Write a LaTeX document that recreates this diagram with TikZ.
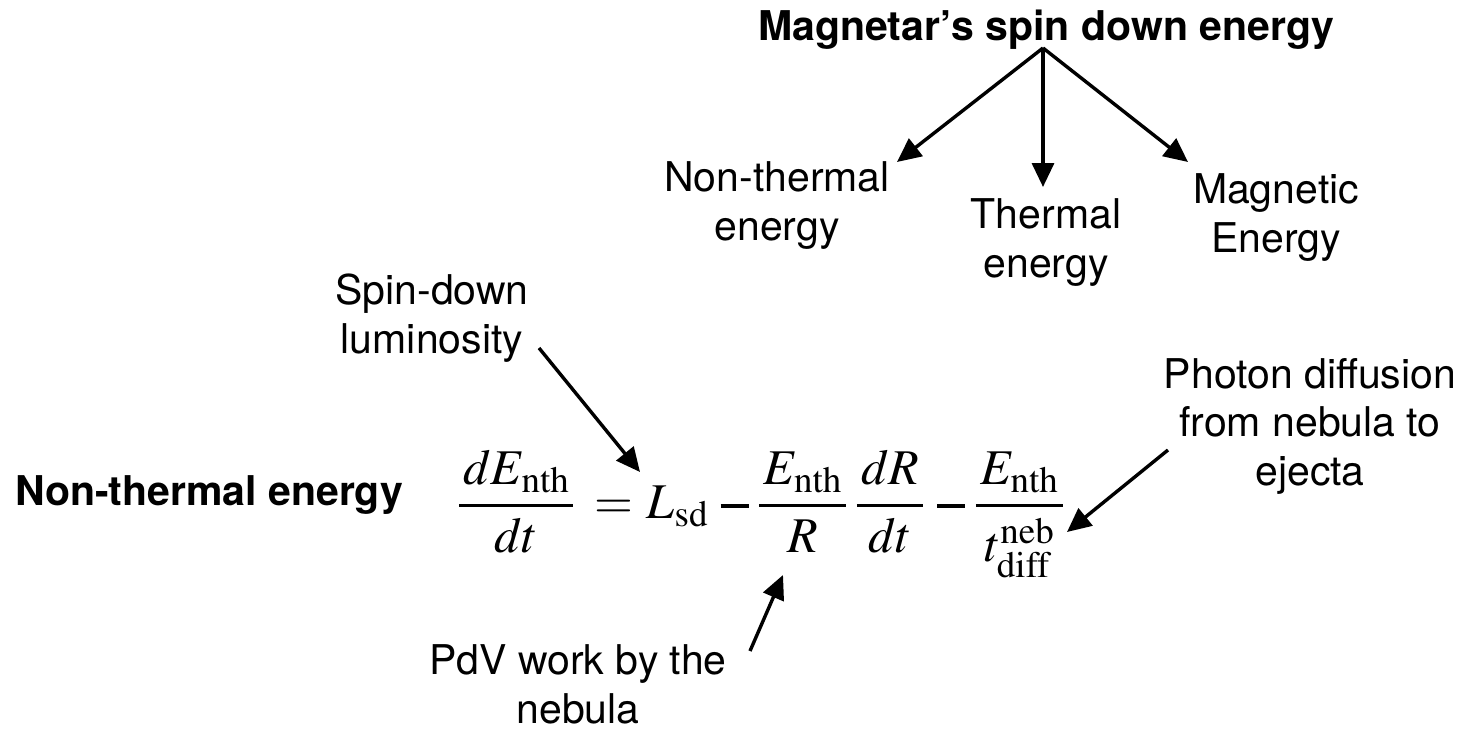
\documentclass[tikz,border=0pt]{standalone}
\usepackage{mathptmx}
\usepackage[no-math]{fontspec}
\setmainfont{TeX Gyre Heros}
\usetikzlibrary{arrows.meta}
\newcommand{\mminus}{\mathbin{\rule[0.2em]{0.56em}{0.075em}}}
\newcommand{\thickfrac}[2]{{\mkern1.5mu#1\mkern1.5mu\above 3.6pt\mkern1.5mu#2\mkern1.5mu}}
\begin{document}
\begin{tikzpicture}[x=1pt,y=-1pt,
  lbl/.style={font=\fontsize{41}{48.5}\selectfont, align=center, inner sep=0pt, anchor=base},
  boldlbl/.style={lbl, font=\fontsize{41}{48.5}\selectfont\bfseries},
  arr/.style={line width=3.4pt, -{Triangle[length=24pt,width=22pt]}}]
\useasboundingbox (0,0) rectangle (1468,731);
% texts (anchor base = baseline of the last line)
\node[boldlbl] (title) at (1046,40) {Magnetar’s spin down energy};
\node[lbl] (nth) at (777,240) {Non-thermal\\energy};
\node[lbl] (th) at (1046,277) {Thermal\\energy};
\node[lbl] (mag) at (1276,252) {Magnetic\\Energy};
\node[lbl] (lum) at (432,353) {Spin-down\\luminosity};
\node[boldlbl, anchor=base east] (nthe) at (403,505) {Non-thermal energy};
\node[lbl] (pdv) at (578,723) {PdV work by the\\nebula};
\node[lbl] (phot) at (1310,485) {Photon diffusion\\from nebula to\\ejecta};
% equation
\node[inner sep=0pt, anchor=base west, font=\fontsize{50}{60}\selectfont] (eq) at (457.8,518)
  {$\displaystyle \thickfrac{dE_{\mathrm{nth}}}{dt} \mkern3mu = \mkern1mu L_{\mathrm{sd}} \mkern2mu\mminus\mkern1mu \thickfrac{E_{\mathrm{nth}}}{R}\mkern3mu\thickfrac{dR}{dt} \mkern2mu\mminus\mkern1mu \thickfrac{E_{\mathrm{nth}}}{t_{\mathrm{diff}}^{\mathrm{neb}}}$};
% connector ends
\coordinate (src) at (1043,48);
\coordinate (tipnth) at (897,162);
\coordinate (tipth) at (1043,187);
\coordinate (tipmag) at (1188,162);
\coordinate (lumtail) at (539,348);
\coordinate (lsd) at (640,472);
\coordinate (photail) at (1168,450);
\coordinate (tdiff) at (1067,532);
\coordinate (pdvtail) at (750,651);
\coordinate (rden) at (783,575);
% connectors
\draw[arr] (src) -- (tipnth);
\draw[arr] (src) -- (tipth);
\draw[arr] (src) -- (tipmag);
\draw[arr] (lumtail) -- (lsd);
\draw[arr] (photail) -- (tdiff);
\draw[arr] (pdvtail) -- (rden);
\end{tikzpicture}
\end{document}
